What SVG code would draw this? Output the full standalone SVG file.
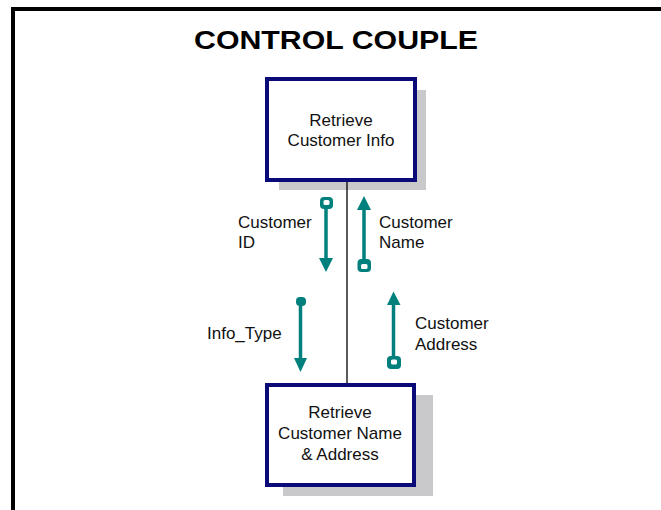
<svg xmlns="http://www.w3.org/2000/svg" width="661" height="510" viewBox="0 0 661 510">
<style>
.box{fill:#ffffff;stroke:#0a0a78;stroke-width:4}
.shadow{fill:#c9c9cc}
.txt{font-family:"Liberation Sans",Arial,sans-serif;font-size:17px;fill:#111111}
.ctr{text-anchor:middle}
.shaft{stroke:#00807c;stroke-width:3.5;fill:none}
.teal{fill:#00807c}
.hole{fill:#ffffff}
.link{stroke:#000000;stroke-width:1.3;fill:none}
</style>
<rect width="661" height="510" fill="#ffffff"/>
<path d="M13,512 V9 H665" fill="none" stroke="#000000" stroke-width="4"/>
<text x="336" y="49" font-family="Liberation Sans,Arial,sans-serif" font-weight="bold" font-size="25" text-anchor="middle" textLength="284" lengthAdjust="spacingAndGlyphs" fill="#000000">CONTROL COUPLE</text>
<g id="node-retrieve-customer-info">
<rect class="shadow" x="279" y="90" width="147" height="100"/>
<rect class="box" x="267" y="79" width="148" height="101"/>
<text class="txt ctr" x="341" y="126">Retrieve</text>
<text class="txt ctr" x="341" y="146">Customer Info</text>
</g>
<g id="node-retrieve-customer-name-address">
<rect class="shadow" x="283" y="395" width="150" height="101"/>
<rect class="box" x="267" y="385" width="147" height="100"/>
<text class="txt ctr" x="340" y="418">Retrieve</text>
<text class="txt ctr" x="340" y="439">Customer Name</text>
<text class="txt ctr" x="340" y="460">&amp; Address</text>
</g>
<g id="connectors">
<line class="link" x1="347" y1="182" x2="347" y2="383"/>
</g>
<g id="couples">
<g id="couple-customer-id">
<line class="shaft" x1="326" y1="205" x2="326" y2="262"/>
<rect class="teal" x="320" y="197" width="13" height="12" rx="4"/>
<rect class="hole" x="323.5" y="200" width="6" height="5" rx="1.5"/>
<polygon class="teal" points="319,258 333,258 326,272"/>
<text class="txt" x="238" y="228">Customer</text>
<text class="txt" x="238" y="248">ID</text>
</g>
<g id="couple-customer-name">
<line class="shaft" x1="364" y1="206" x2="364" y2="262"/>
<polygon class="teal" points="357,210 371,210 364,196"/>
<rect class="teal" x="357.5" y="259" width="13.5" height="13" rx="4"/>
<rect class="hole" x="361" y="264" width="6.5" height="5" rx="1.5"/>
<text class="txt" x="379" y="228">Customer</text>
<text class="txt" x="379" y="248">Name</text>
</g>
<g id="couple-info-type">
<line class="shaft" x1="300.5" y1="301" x2="300.5" y2="361"/>
<rect class="teal" x="296" y="297" width="10" height="9" rx="4"/>
<polygon class="teal" points="294,358 307,358 300.5,372"/>
<text class="txt" x="207" y="339">Info_Type</text>
</g>
<g id="couple-customer-address">
<line class="shaft" x1="393.5" y1="302" x2="393.5" y2="360"/>
<polygon class="teal" points="387,305 400.5,305 393.5,291.5"/>
<rect class="teal" x="387" y="356" width="14" height="13" rx="4"/>
<rect class="hole" x="391" y="359.5" width="6" height="5" rx="1.5"/>
<text class="txt" x="415" y="329">Customer</text>
<text class="txt" x="415" y="350">Address</text>
</g>
</g>
</svg>
